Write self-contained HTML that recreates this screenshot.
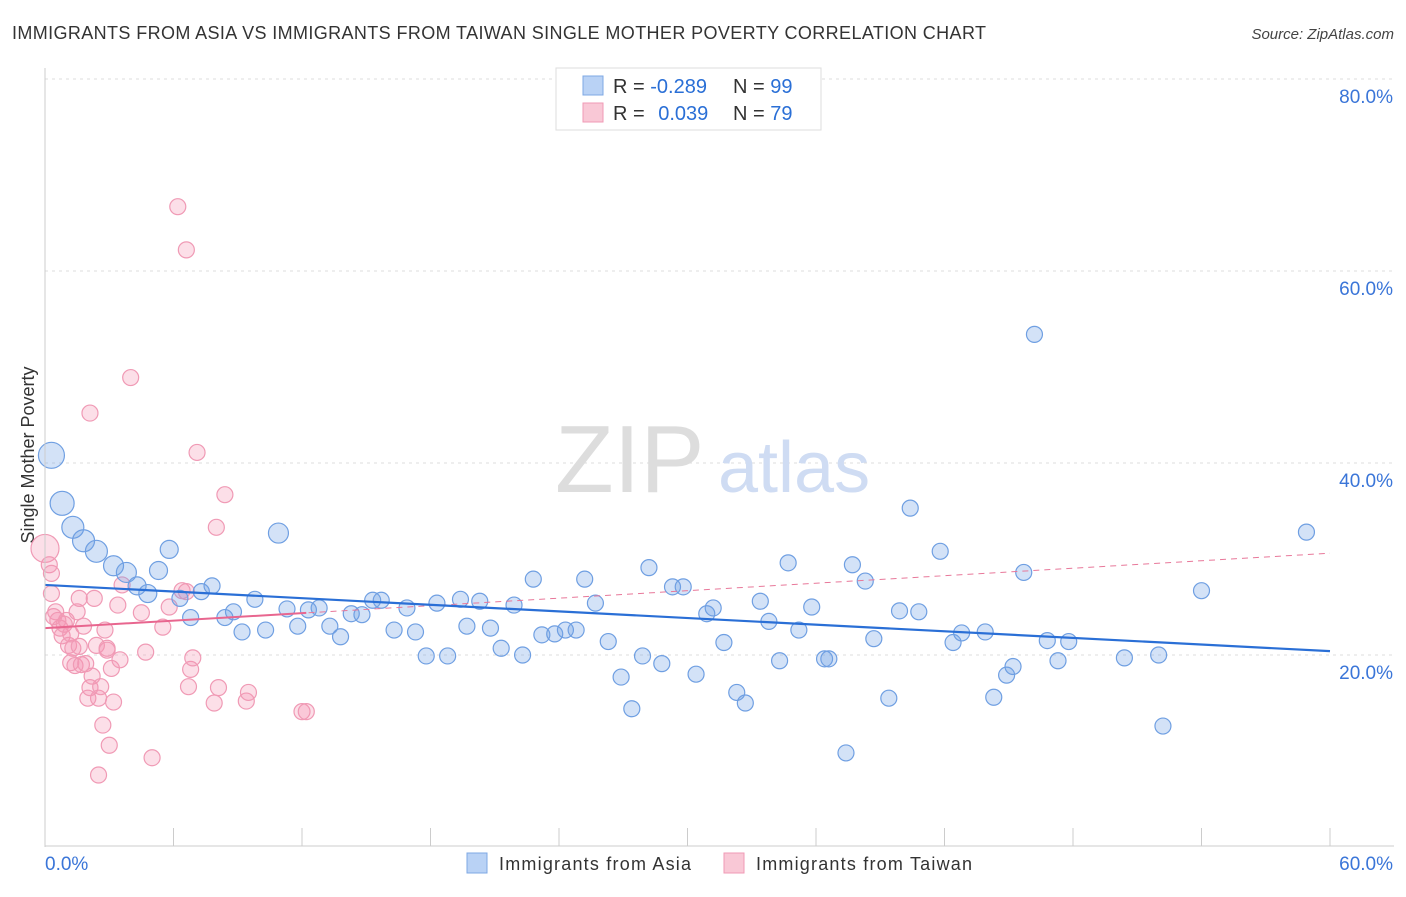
<!DOCTYPE html>
<html><head><meta charset="utf-8"><style>
body{margin:0;background:#fff;font-family:"Liberation Sans",sans-serif;}
svg text{font-family:"Liberation Sans",sans-serif;}
</style></head><body>
<svg id="chart" width="1406" height="892" xmlns="http://www.w3.org/2000/svg">
<text x="12" y="39" font-size="18" fill="#333" textLength="974" lengthAdjust="spacing">IMMIGRANTS FROM ASIA VS IMMIGRANTS FROM TAIWAN SINGLE MOTHER POVERTY CORRELATION CHART</text>
<text x="1394" y="39" font-size="15" fill="#444" text-anchor="end" font-style="italic">Source: ZipAtlas.com</text>
<g id="grid"></g>
<text x="555" y="492" font-size="96" fill="#ddd" font-family="Liberation Serif">ZIP</text>
<text x="718" y="492" font-size="72" fill="#cfdcf3">atlas</text>
<text transform="translate(34,455) rotate(-90)" font-size="18" fill="#333" text-anchor="middle">Single Mother Poverty</text>
<g id="marks"></g>
<g>
<rect x="556" y="68" width="265" height="62" fill="#fff" stroke="#ddd"/>
<rect x="583" y="76" width="20" height="19" fill="#b9d2f5" stroke="#7ea8e4"/>
<rect x="583" y="103" width="20" height="19" fill="#f9c8d6" stroke="#f09ab5"/>
<text x="613" y="93" font-size="20" fill="#333">R = <tspan fill="#2a6fd6">-0.289</tspan></text>
<text x="733" y="93" font-size="20" fill="#333">N = <tspan fill="#2a6fd6">99</tspan></text>
<text x="613" y="120" font-size="20" fill="#333">R = <tspan fill="#2a6fd6" dx="8">0.039</tspan></text>
<text x="733" y="120" font-size="20" fill="#333">N = <tspan fill="#2a6fd6">79</tspan></text>
</g>
<g>
<rect x="467" y="853" width="20" height="20" fill="#b9d2f5" stroke="#7ea8e4"/>
<text x="499" y="870" font-size="18" fill="#333" textLength="192">Immigrants from Asia</text>
<rect x="724" y="853" width="20" height="20" fill="#f9c8d6" stroke="#f09ab5"/>
<text x="756" y="870" font-size="18" fill="#333" textLength="216">Immigrants from Taiwan</text>
</g>
</svg>
<script>
const yTicks=[20,40,60,80];
const yTickLabels=["20.0%","40.0%","60.0%","80.0%"];
const xTicks=[0,6,12,18,24,30,36,42,48,54,60];
const asiaX=[0.3,0.8,1.3,1.8,2.4,3.2,3.8,4.3,4.8,5.3,5.8,6.3,6.8,7.3,7.8,8.4,8.8,9.2,9.8,10.3,10.9,11.3,11.8,12.3,12.8,13.3,13.8,14.3,14.8,15.3,15.7,16.3,16.9,17.3,17.8,18.3,18.8,19.4,19.7,20.3,20.8,21.3,21.9,22.3,22.8,23.2,23.8,24.3,24.8,25.2,25.7,26.3,26.9,27.4,27.9,28.2,28.8,29.3,29.8,30.4,30.9,31.2,31.7,32.3,32.7,33.4,33.8,34.3,34.7,35.2,35.8,36.4,36.6,37.4,37.7,38.3,38.7,39.4,39.9,40.4,40.8,41.8,42.4,42.8,43.9,44.3,44.9,45.2,45.7,46.2,46.8,47.3,47.8,50.4,52.0,52.2,54.0,58.9];
const asiaY=[40.8,35.8,33.3,31.9,30.8,29.3,28.6,27.2,26.4,28.8,31.0,25.9,23.9,26.6,27.2,23.9,24.5,22.4,25.8,22.6,32.7,24.8,23.0,24.7,24.9,23.0,21.9,24.3,24.2,25.7,25.7,22.6,24.9,22.4,19.9,25.4,19.9,25.8,23.0,25.6,22.8,20.7,25.2,20.0,27.9,22.1,22.2,22.6,22.6,27.9,25.4,21.4,17.7,14.4,19.9,29.1,19.1,27.1,27.1,18.0,24.3,24.9,21.3,16.1,15.0,25.6,23.5,19.4,29.6,22.6,25.0,19.6,19.6,9.8,29.4,27.7,21.7,15.5,24.6,35.3,24.5,30.8,21.3,22.3,22.4,15.6,17.9,18.8,28.6,53.4,21.5,19.4,21.4,19.7,20.0,12.6,26.7,32.8];
const asiaR=[13,12,11,11,11,10,10,9,9,9,9,8,8,8,8,8,8,8,8,8,10,8,8,8,8,8,8,8,8,8,8,8,8,8,8,8,8,8,8,8,8,8,8,8,8,8,8,8,8,8,8,8,8,8,8,8,8,8,8,8,8,8,8,8,8,8,8,8,8,8,8,8,8,8,8,8,8,8,8,8,8,8,8,8,8,8,8,8,8,8,8,8,8,8,8,8,8,8];
const taiwanX=[0,0.2,0.3,0.5,0.6,0.7,0.8,1.0,1.1,1.2,1.3,1.4,1.5,1.6,1.6,1.7,1.8,1.9,2.0,2.1,2.1,2.2,2.3,2.4,2.5,2.5,2.6,2.7,2.8,2.9,2.9,3.0,3.1,3.2,3.4,3.5,3.6,4.0,4.5,4.7,5.0,5.5,5.8,6.2,6.4,6.6,6.6,6.7,6.8,6.9,7.1,7.9,8.0,8.1,8.4,9.4,9.5,12.0,12.2,0.3,0.9,0.4,1.2];
const taiwanY=[31.1,29.4,28.5,24.5,23.6,22.8,22.0,23.6,21.0,19.2,20.7,18.9,24.5,20.9,25.9,19.0,23.0,19.1,15.5,45.2,16.6,17.8,25.9,21.0,15.5,7.5,16.7,12.7,22.6,20.7,20.5,10.6,18.6,15.1,25.2,19.5,27.3,48.9,24.4,20.3,9.3,22.9,25.0,66.7,26.7,62.2,26.6,16.7,18.5,19.7,41.1,15.0,33.3,16.6,36.7,15.2,16.1,14.1,14.1,26.4,23.2,24.0,22.2];
const asiaTrend=[27.3,20.4];
const taiwanTrend=[22.8,30.6];
const X0=45,X1=1330,Y0=847;
const xs=v=>X0+v/60*(X1-X0);
const ys=v=>Y0-v*9.6;
const NS="http://www.w3.org/2000/svg";
const svg=document.getElementById('chart');
const grid=document.getElementById('grid');
const marks=document.getElementById('marks');
function mk(t,a,p){const e=document.createElementNS(NS,t);for(const k in a)e.setAttribute(k,a[k]);(p||svg).appendChild(e);return e;}
yTicks.forEach((v,i)=>{
 const l=mk('line',{x1:X0,x2:1394,y1:ys(v),y2:ys(v),stroke:'#ddd','stroke-dasharray':'3,4'},grid);
 
 
 const t=mk('text',{x:1393,y:ys(v)+24,'font-size':19,fill:'#3a75d8','text-anchor':'end'});
 t.textContent=yTickLabels[i];
 
 
});
const ya=mk('line',{x1:X0,x2:X0,y1:68,y2:Y0,stroke:'#ccc'});


const xa=mk('line',{x1:X0,x2:1394,y1:846,y2:846,stroke:'#ccc'});


xTicks.forEach(v=>{
 const l=mk('line',{x1:xs(v),x2:xs(v),y1:828,y2:846,stroke:'#ccc'});
 
 
});
const xl0=mk('text',{x:45,y:870,'font-size':19,fill:'#3a75d8'});xl0.textContent='0.0%';


const xl1=mk('text',{x:1393,y:870,'font-size':19,fill:'#3a75d8','text-anchor':'end'});xl1.textContent='60.0%';


taiwanX.forEach((x,i)=>{
 const c=mk('circle',{cx:xs(x),cy:ys(taiwanY[i]),r:i===0?14:8,fill:'rgba(244,150,180,0.3)',stroke:'#f09ab5','stroke-width':1.2},marks);
 
 
});
asiaX.forEach((x,i)=>{
 const c=mk('circle',{cx:xs(x),cy:ys(asiaY[i]),r:asiaR[i]||8,fill:'rgba(110,160,230,0.3)',stroke:'#6f9fe2','stroke-width':1.2},marks);
 
 
});
const td=mk('line',{x1:xs(0),y1:ys(taiwanTrend[0]),x2:xs(60),y2:ys(taiwanTrend[1]),stroke:'#e8789a','stroke-width':1,'stroke-dasharray':'6,5'},marks);


const tf=taiwanTrend[0]+(taiwanTrend[1]-taiwanTrend[0])*12.2/60;
const ts=mk('line',{x1:xs(0),y1:ys(taiwanTrend[0]),x2:xs(12.2),y2:ys(tf),stroke:'#e8668f','stroke-width':2},marks);


const at=mk('line',{x1:xs(0),y1:ys(asiaTrend[0]),x2:xs(60),y2:ys(asiaTrend[1]),stroke:'#2a6fd6','stroke-width':2.2},marks);


</script>
</body></html>
